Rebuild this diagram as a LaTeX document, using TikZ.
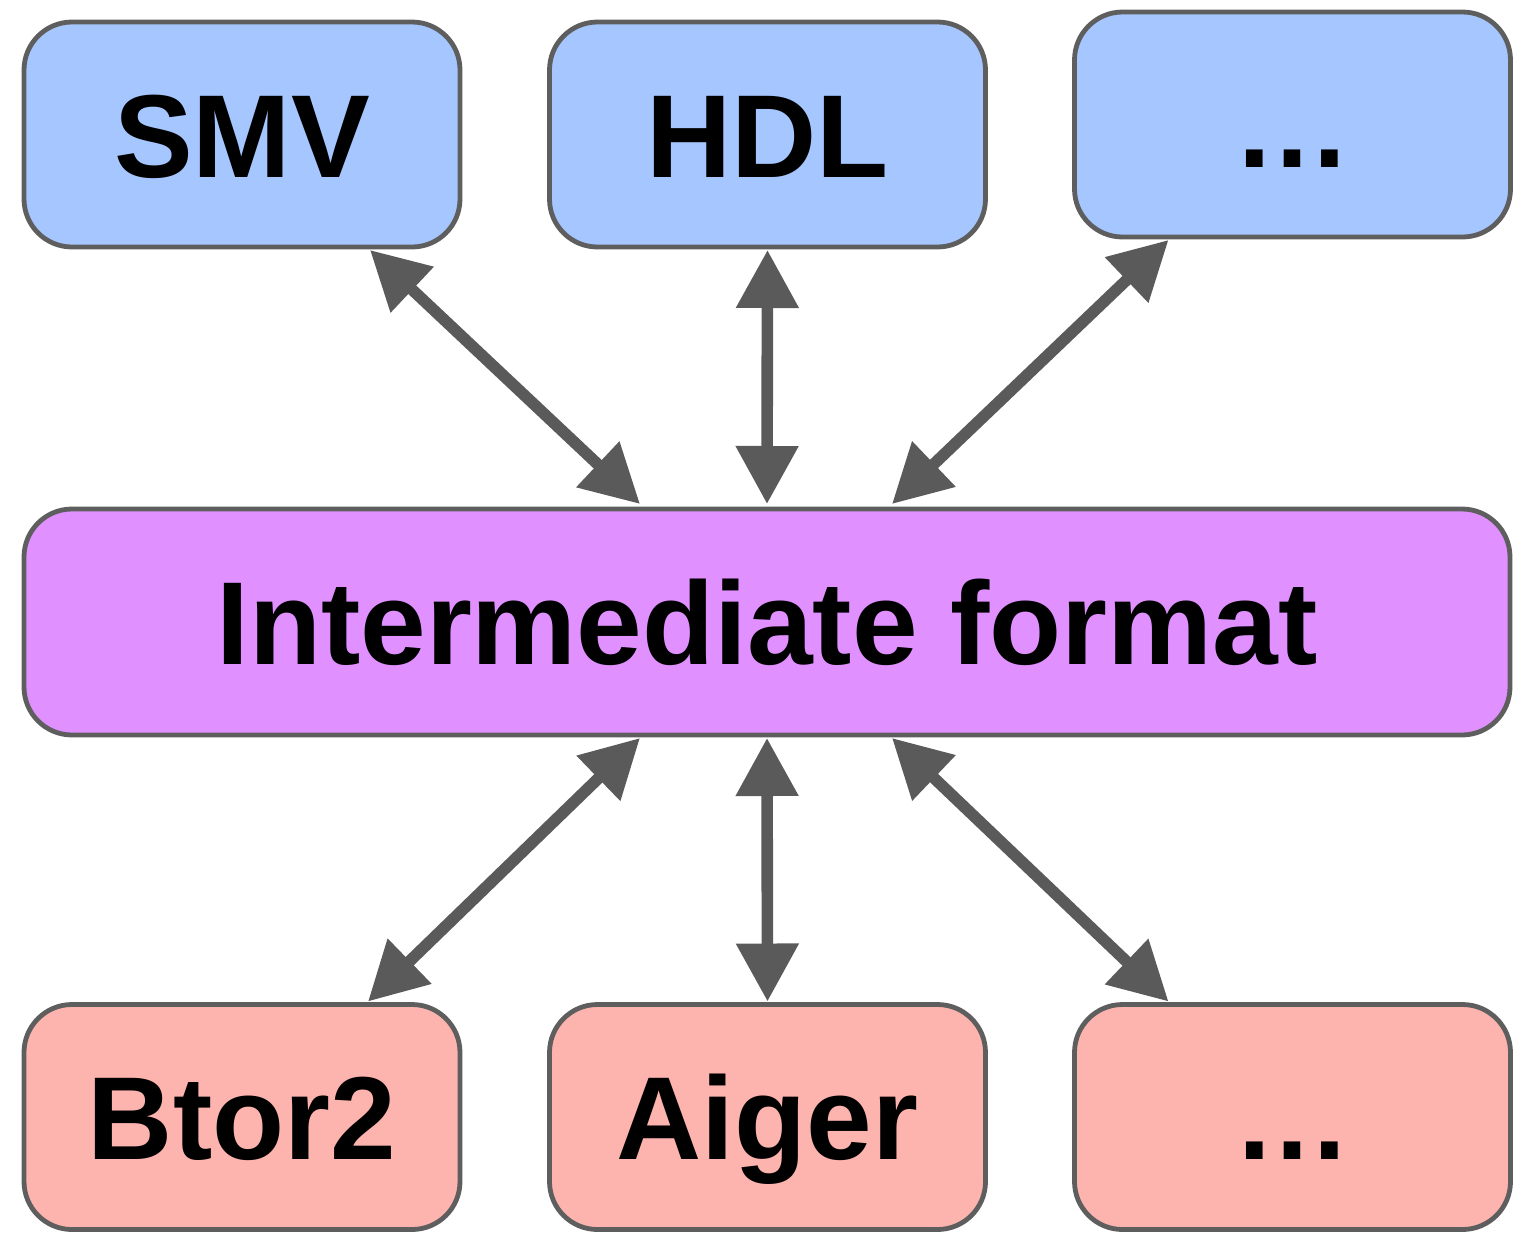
\documentclass[tikz,border=0pt]{standalone}
\usepackage{fontspec}
\setmainfont{Liberation Sans}
\usetikzlibrary{arrows.meta}
\definecolor{srcblue}{HTML}{A6C6FF}
\definecolor{midpurple}{HTML}{E090FF}
\definecolor{tgtpink}{HTML}{FDB4AF}
\definecolor{edgegray}{HTML}{5E5E5E}
\definecolor{arrowgray}{HTML}{5A5A5A}
\tikzset{
  fmtbox/.style={draw=edgegray, line width=2.4pt, rounded corners=24pt,
    minimum width=218pt, minimum height=112.5pt, outer sep=0pt, inner sep=0pt,
    font=\fontsize{59}{70}\selectfont\bfseries,
    text height=42.5pt, text depth=0pt},
  link/.style={arrowgray, line width=5.8pt,
    {Triangle[length=29pt,width=30pt]}-{Triangle[length=29pt,width=30pt]}}
}
\begin{document}
\begin{tikzpicture}[x=0.5pt,y=-0.5pt]
\useasboundingbox (0,0) rectangle (1532,1233);
% source formats
\node[fmtbox, fill=srcblue] (smv) at (242,134.5) {SMV};
\node[fmtbox, fill=srcblue] (hdl) at (767.5,134.5) {HDL};
\node[fmtbox, fill=srcblue] (srcmore) at (1292.5,124.5) {…};
% intermediate format
\node[fmtbox, fill=midpurple, minimum width=743pt, minimum height=113pt] (mid) at (767,622) {Intermediate format};
% target formats
\node[fmtbox, fill=tgtpink] (btor) at (242,1117) {Btor2};
\node[fmtbox, fill=tgtpink] (aiger) at (767.5,1117) {Aiger};
\node[fmtbox, fill=tgtpink] (tgtmore) at (1292.5,1117) {…};
% two-way translations
\draw[link] ([xshift=64pt,yshift=-1.5pt]smv.south) -- ([xshift=-63.5pt,yshift=2.5pt]mid.north);
\draw[link] ([yshift=-1.5pt]hdl.south) -- ([yshift=2.5pt]mid.north);
\draw[link] ([xshift=-62pt,yshift=-1.5pt]srcmore.south) -- ([xshift=62.5pt,yshift=2.5pt]mid.north);
\draw[link] ([xshift=-63.5pt,yshift=-1.5pt]mid.south) -- ([xshift=63pt,yshift=1.5pt]btor.north);
\draw[link] ([yshift=-1.5pt]mid.south) -- ([yshift=1.5pt]aiger.north);
\draw[link] ([xshift=62.5pt,yshift=-1.5pt]mid.south) -- ([xshift=-62pt,yshift=1.5pt]tgtmore.north);
\end{tikzpicture}
\end{document}
